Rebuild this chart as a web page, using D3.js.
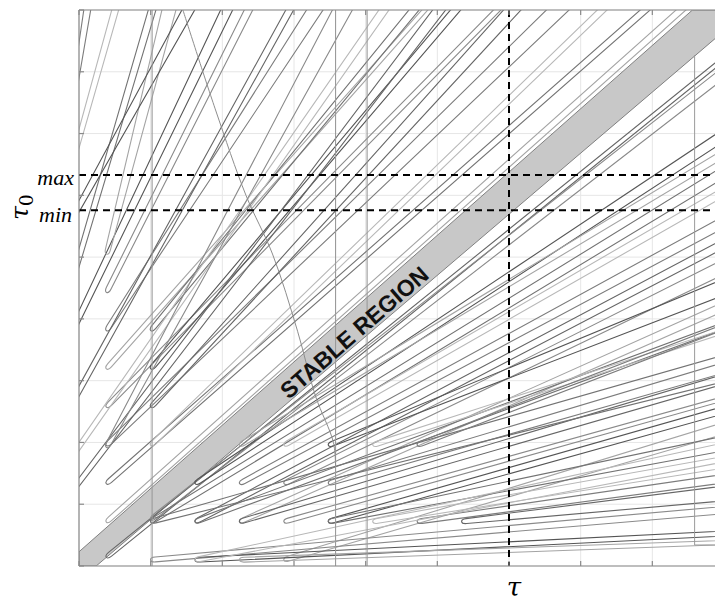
<!DOCTYPE html>
<html><head><meta charset="utf-8">
<script src="https://cdn.jsdelivr.net/npm/d3@7"></script>
<style>body{margin:0;background:#fff} svg{display:block}</style>
</head><body><svg id="c" width="715" height="602"></svg>
<script>
// ---------------- data (in chart units: tau, tau0) ----------------
const gridTau  = [0,1,2,3,4,5,6,7,8,9];
const gridTau0 = [0,1,2,3,4,5,6,7,8,9];
const tauMark = 6.0, tau0Max = 6.33, tau0Min = 5.76;
const stableRegion = [[0,0],[0.24,0],[9,8.66],[9,9],[8.56,9],[0,0.23]];
const stableLabel = "STABLE REGION";
const stableLabelAt = [3.84, 3.78];

// tongues opening to the right (exit values = tau0 at right border)
const rTipTau  = [0.39,1.01,1.63,2.25,1.01,2.87,2.25,1.63,2.87,3.49,2.25,1.63,4.11,3.49,2.25,2.87,3.49,2.87,3.49,4.11,4.73,5.35,1.01,1.63,2.25,1.01,1.63,4.73];
const rTipTau0 = [0.15,0.76,1.34,1.96,0.72,1.96,1.34,0.72,1.34,1.96,0.72,0.72,1.96,1.34,0.72,0.72,0.72,0.10,0.72,0.72,0.72,0.72,0.10,0.10,0.10,0.72,0.10,1.96];
const rExitA   = [8.24,8.07,7.06,6.73,6.46,6.12,5.65,5.28,4.95,4.63,4.26,3.93,3.82,3.28,3.09,2.73,2.57,2.31,2.09,1.76,1.47,1.28,0.95,0.55,0.40,3.40,1.98,3.90];
const rExitB   = [8.19,7.91,6.89,6.62,6.30,6.00,5.49,5.16,4.74,4.40,4.14,3.85,3.78,3.14,2.96,2.69,2.48,2.15,1.88,1.60,1.36,1.07,0.86,0.50,0.36,3.00,1.70,3.84];
// tongues opening upward (exit values = tau at top border)
const tTipTau  = [0.39,0.39,1.01,0.39,1.01,0.39,1.01,0.39,1.01,-0.20,0.39,-0.30,0.39,-0.30,0.39,-0.20,-0.10,-0.05,-0.30,0.39,-0.25];
const tTipTau0 = [0.72,1.34,1.96,1.96,2.58,2.58,3.20,3.20,3.82,1.60,3.82,2.20,4.44,3.30,5.06,4.20,6.50,7.80,0.90,1.93,5.30];
const tExitA   = [8.45,7.95,7.35,6.82,6.15,5.87,5.31,4.85,4.73,4.31,3.39,2.98,2.41,2.13,1.34,1.06,0.54,0.15,5.10,3.80,1.60];
const tExitB   = [8.35,7.85,7.25,6.54,5.94,5.80,5.20,4.80,4.62,4.20,3.19,2.90,2.32,1.99,1.17,0.98,0.47,0.08,4.95,3.55,1.45];

// other curves
const verticalTau = [1.02, 3.58, 4.02];
const stepCurve = [[8.59,8.27],[8.59,0.34],[9.2,0.34]];
const bendCurve = [[1.45,9.0],[1.90,7.4],[2.33,6.0],[2.70,5.05],[3.05,3.8],[3.30,2.75],[3.55,2.0],[3.58,1.6]];

// ---------------- drawing ----------------
const svg = d3.select("#c");
const L=79, R=724, T=10, B=566;
const x = d3.scaleLinear().domain([0,9]).range([L,R]);
const y = d3.scaleLinear().domain([0,9]).range([B,T]);

svg.append("defs").append("clipPath").attr("id","clip")
  .append("rect").attr("x",L).attr("y",T).attr("width",R-L).attr("height",B-T);

// grid
const g = svg.append("g");
g.selectAll(".gx").data(gridTau).join("line")
  .attr("x1",d=>x(d)).attr("x2",d=>x(d)).attr("y1",T).attr("y2",B)
  .attr("stroke","#e6e6e6").attr("stroke-width",1);
g.selectAll(".gy").data(gridTau0).join("line")
  .attr("y1",d=>y(d)).attr("y2",d=>y(d)).attr("x1",L).attr("x2",R)
  .attr("stroke","#e6e6e6").attr("stroke-width",1);

const plot = svg.append("g").attr("clip-path","url(#clip)");

// stable band
plot.append("path").datum(stableRegion)
  .attr("d", d3.line().x(d=>x(d[0])).y(d=>y(d[1])).curve(d3.curveLinearClosed))
  .attr("fill","#c8c8c8").attr("stroke","#808080").attr("stroke-width",1);

const shades = ["#666666","#8a8a8a","#555555","#a4a4a4","#737373","#b8b8b8","#7c7c7c"];

function tongue(tip, endA, endB){
  const Tp=[x(tip[0]),y(tip[1])], A=[x(endA[0]),y(endA[1])], Bp=[x(endB[0]),y(endB[1])];
  const unit=v=>{const l=Math.hypot(v[0],v[1]);return [v[0]/l,v[1]/l];};
  const dA=unit([A[0]-Tp[0],A[1]-Tp[1]]), dB=unit([Bp[0]-Tp[0],Bp[1]-Tp[1]]);
  const bis=unit([dA[0]+dB[0],dA[1]+dB[1]]);
  let n=[-bis[1],bis[0]];
  const s=((dA[0]-dB[0])*n[0]+(dA[1]-dB[1])*n[1])>=0?1:-1; n=[n[0]*s,n[1]*s];
  const w=2.4, r=4;
  const P1=[Tp[0]+dA[0]*r+n[0]*w, Tp[1]+dA[1]*r+n[1]*w];
  const P2=[Tp[0]+dB[0]*r-n[0]*w, Tp[1]+dB[1]*r-n[1]*w];
  const p=d3.path();
  p.moveTo(A[0],A[1]); p.lineTo(P1[0],P1[1]);
  p.bezierCurveTo(P1[0]-dA[0]*r*1.6,P1[1]-dA[1]*r*1.6, P2[0]-dB[0]*r*1.6,P2[1]-dB[1]*r*1.6, P2[0],P2[1]);
  p.lineTo(Bp[0],Bp[1]);
  return p.toString();
}
function far(p0, p1){ return [p0[0]+(p1[0]-p0[0])*1.6, p0[1]+(p1[1]-p0[1])*1.6]; }

rTipTau.forEach((t,i)=>{
  const tip=[t,rTipTau0[i]];
  plot.append("path").attr("d",tongue(tip, far(tip,[9,rExitA[i]]), far(tip,[9,rExitB[i]])))
    .attr("fill","none").attr("stroke",shades[i%shades.length]).attr("stroke-width",1.1);
});
tTipTau.forEach((t,i)=>{
  const tip=[t,tTipTau0[i]];
  plot.append("path").attr("d",tongue(tip, far(tip,[tExitA[i],9]), far(tip,[tExitB[i],9])))
    .attr("fill","none").attr("stroke",shades[(i+3)%shades.length]).attr("stroke-width",1.1);
});

// verticals and misc curves
plot.selectAll(".vl").data(verticalTau).join("line")
  .attr("x1",d=>x(d)).attr("x2",d=>x(d)).attr("y1",T).attr("y2",B)
  .attr("stroke","#9a9a9a").attr("stroke-width",1.1);
plot.append("path").datum(stepCurve)
  .attr("d",d3.line().x(d=>x(d[0])).y(d=>y(d[1])))
  .attr("fill","none").attr("stroke","#9a9a9a").attr("stroke-width",1);
plot.append("path").datum(bendCurve)
  .attr("d",d3.line().x(d=>x(d[0])).y(d=>y(d[1])).curve(d3.curveCatmullRom))
  .attr("fill","none").attr("stroke","#8e8e8e").attr("stroke-width",1);

// dashed markers
const dash="7,5";
svg.append("line").attr("x1",x(tauMark)).attr("x2",x(tauMark)).attr("y1",T).attr("y2",B)
  .attr("stroke","#000").attr("stroke-width",2).attr("stroke-dasharray",dash);
[tau0Max,tau0Min].forEach(v=>svg.append("line").attr("x1",L).attr("x2",R).attr("y1",y(v)).attr("y2",y(v))
  .attr("stroke","#000").attr("stroke-width",2).attr("stroke-dasharray",dash));

// label in band
const lp=[x(stableLabelAt[0]),y(stableLabelAt[1])];
svg.append("text").attr("transform",`translate(${lp[0]},${lp[1]}) rotate(-41)`)
  .attr("text-anchor","middle").attr("dominant-baseline","central")
  .attr("font-family","Liberation Sans, Arial, sans-serif").attr("font-weight","bold")
  .attr("font-size",23).attr("fill","#111").text(stableLabel);

// axes frame + ticks (inward)
const ax = svg.append("g").attr("stroke","#8a8a8a").attr("stroke-width",1.2);
ax.append("line").attr("x1",L).attr("x2",R).attr("y1",B).attr("y2",B);
ax.append("line").attr("x1",L).attr("x2",R).attr("y1",T).attr("y2",T);
ax.append("line").attr("x1",L).attr("x2",L).attr("y1",T).attr("y2",B);
gridTau.forEach(v=>{
  ax.append("line").attr("x1",x(v)).attr("x2",x(v)).attr("y1",B).attr("y2",B-5);
  ax.append("line").attr("x1",x(v)).attr("x2",x(v)).attr("y1",T).attr("y2",T+5);
});
gridTau0.forEach(v=>ax.append("line").attr("x1",L).attr("x2",L+5).attr("y1",y(v)).attr("y2",y(v)));

// axis labels
const serif="DejaVu Serif, Liberation Serif, serif";
svg.append("text").attr("x",x(tauMark)+5).attr("y",596).attr("text-anchor","middle").attr("fill","#000")
  .attr("font-family",serif).attr("font-style","italic").attr("font-size",26).text("τ");
const yl = svg.append("text").attr("transform","translate(28,220) rotate(-90)").attr("fill","#000")
  .attr("font-family",serif).attr("font-style","italic").attr("font-size",25);
yl.append("tspan").attr("fill","#000").text("τ");
yl.append("tspan").attr("fill","#000").attr("font-style","normal").attr("font-size",19).attr("dy",5).text("0");
svg.append("text").attr("x",74).attr("y",y(tau0Max)+10).attr("text-anchor","end").attr("fill","#000")
  .attr("font-family","Liberation Serif, serif").attr("font-style","italic").attr("font-size",22).text("max");
svg.append("text").attr("x",72).attr("y",y(tau0Min)+12).attr("text-anchor","end").attr("fill","#000")
  .attr("font-family","Liberation Serif, serif").attr("font-style","italic").attr("font-size",22).text("min");
</script></body></html>
